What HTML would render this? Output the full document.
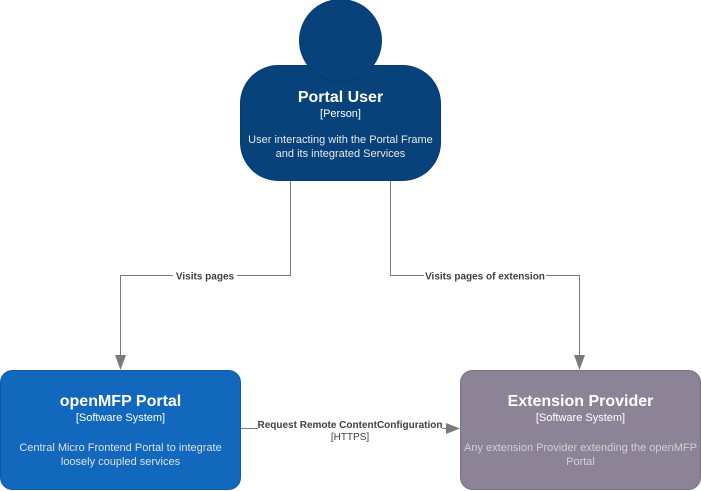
<!DOCTYPE html>
<html><head><meta charset="utf-8"><style>
html,body{margin:0;padding:0;background:#fff;}
svg{display:block;font-family:"Liberation Sans",Arial,sans-serif;}
</style></head><body>
<svg width="701" height="491" viewBox="0 0 701 491" xmlns="http://www.w3.org/2000/svg">
<g stroke="#7a7a7a" stroke-width="1" fill="none">
<polyline points="290.5,180 290.5,275.5 120.5,275.5 120.5,358"/>
<polyline points="390.5,180 390.5,275.5 579.5,275.5 579.5,358"/>
<line x1="241" y1="428.5" x2="449" y2="428.5"/>
</g>
<g fill="#7a7a7a">
<polygon points="115,355 126,355 120.5,370"/>
<polygon points="574,355 585,355 579.5,370"/>
<polygon points="446,423 446,434 460,428.5"/>
</g>
<g font-size="10" font-weight="bold" fill="#404040" text-anchor="middle">
<rect x="173" y="270" width="64" height="12" fill="#fff"/>
<text x="205" y="279.5">Visits pages</text>
<rect x="424" y="270" width="122" height="12" fill="#fff"/>
<text x="485" y="279.5">Visits pages of extension</text>
<rect x="258" y="419" width="184" height="11" fill="#fff"/>
<text x="350" y="428">Request Remote ContentConfiguration</text>
<text x="350" y="440" font-weight="normal">[HTTPS]</text>
</g>
<rect x="240.5" y="65.5" width="200" height="115" rx="38" fill="#08427b" stroke="#073b6f"/>
<circle cx="340.5" cy="40.5" r="41" fill="#08427b" stroke="#073b6f"/>
<g fill="#fff" text-anchor="middle">
<text x="340.5" y="102" font-size="16" font-weight="bold">Portal User</text>
<text x="340.5" y="117" font-size="11">[Person]</text>
<text x="340.5" y="143" font-size="11" fill="#e8e8e8">User interacting with the Portal Frame</text>
<text x="340.5" y="157" font-size="11" fill="#e8e8e8">and its integrated Services</text>
</g>
<rect x="0.5" y="370.5" width="240" height="119" rx="12" fill="#1168bd" stroke="#0e5aa7"/>
<g fill="#fff" text-anchor="middle">
<text x="120.5" y="406" font-size="16" font-weight="bold">openMFP Portal</text>
<text x="120.5" y="421" font-size="11">[Software System]</text>
<text x="120.5" y="451" font-size="11" fill="#e0e0e0">Central Micro Frontend Portal to integrate</text>
<text x="120.5" y="465" font-size="11" fill="#e0e0e0">loosely coupled services</text>
</g>
<rect x="460.5" y="370.5" width="240" height="119" rx="12" fill="#8c8496" stroke="#7a7283"/>
<g fill="#fff" text-anchor="middle">
<text x="580.5" y="406" font-size="16" font-weight="bold">Extension Provider</text>
<text x="580.5" y="421" font-size="11">[Software System]</text>
<text x="580.5" y="451" font-size="11" fill="#d0d0d0">Any extension Provider extending the openMFP</text>
<text x="580.5" y="465" font-size="11" fill="#d0d0d0">Portal</text>
</g>
</svg>
</body></html>
